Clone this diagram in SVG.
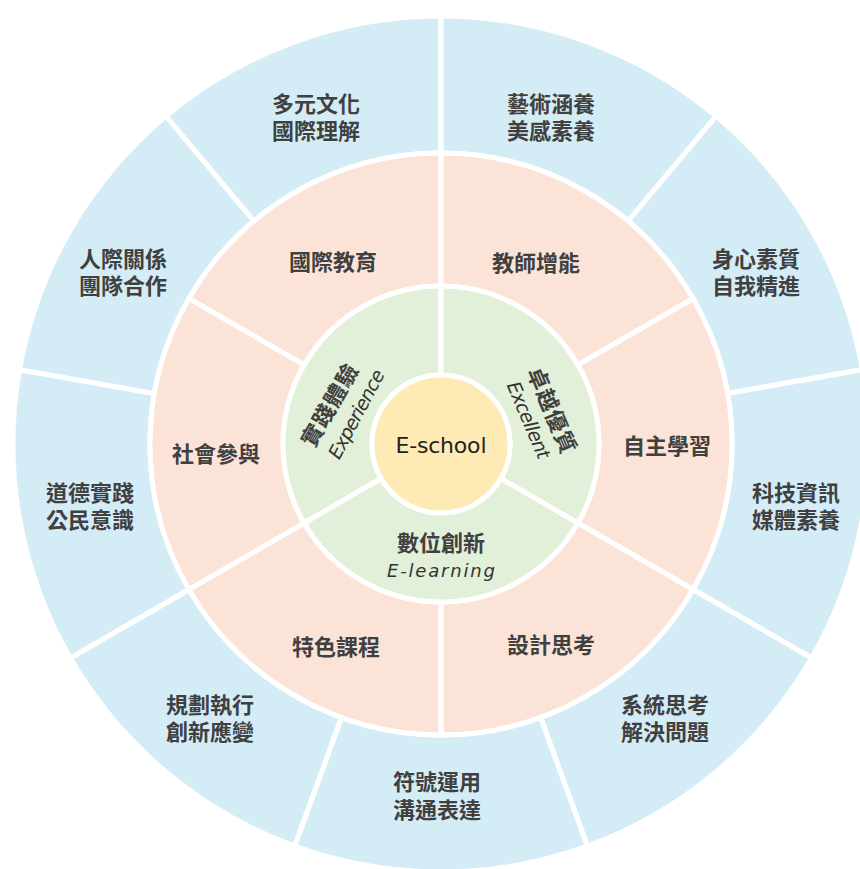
<svg xmlns="http://www.w3.org/2000/svg" width="860" height="869" viewBox="0 0 860 869">
<style>
.seg{stroke:#ffffff;stroke-width:5;stroke-linejoin:miter}
.blue{fill:#d4ecf6}
.peach{fill:#fbe3d7}
.green{fill:#e2efd9}
.yellow{fill:#feeab5}
.t{font-family:"Noto Sans CJK TC","Noto Sans CJK SC",sans-serif;font-size:22px;font-weight:600;fill:#404040;text-anchor:middle;dominant-baseline:central}
.en{font-family:"DejaVu Sans","Noto Sans",sans-serif;font-style:italic;font-weight:300;fill:#333333;text-anchor:middle;dominant-baseline:central}
.up{font-style:normal;font-weight:400;fill:#222222}
</style>
<rect width="860" height="869" fill="#ffffff"/>
<g id="outer-ring">
<g id="n-multicultural"><path class="seg blue" d="M 165.89 116.13 A 428 428 0 0 1 441 16 L 441 153 A 291 291 0 0 0 253.95 221.08 Z"/><text class="t" x="316" y="102">多元文化</text><text class="t" x="316" y="129">國際理解</text></g>
<g id="n-arts"><path class="seg blue" d="M 441 16 A 428 428 0 0 1 716.11 116.13 L 628.05 221.08 A 291 291 0 0 0 441 153 Z"/><text class="t" x="551" y="102">藝術涵養</text><text class="t" x="551" y="129">美感素養</text></g>
<g id="n-body"><path class="seg blue" d="M 716.11 116.13 A 428 428 0 0 1 862.5 369.68 L 727.58 393.47 A 291 291 0 0 0 628.05 221.08 Z"/><text class="t" x="756" y="257">身心素質</text><text class="t" x="756" y="284">自我精進</text></g>
<g id="n-tech"><path class="seg blue" d="M 862.5 369.68 A 428 428 0 0 1 811.66 658 L 693.01 589.5 A 291 291 0 0 0 727.58 393.47 Z"/><text class="t" x="796" y="491">科技資訊</text><text class="t" x="796" y="518">媒體素養</text></g>
<g id="n-system"><path class="seg blue" d="M 811.66 658 A 428 428 0 0 1 587.38 846.19 L 540.53 717.45 A 291 291 0 0 0 693.01 589.5 Z"/><text class="t" x="665" y="703">系統思考</text><text class="t" x="665" y="730">解決問題</text></g>
<g id="n-symbol"><path class="seg blue" d="M 587.38 846.19 A 428 428 0 0 1 294.62 846.19 L 341.47 717.45 A 291 291 0 0 0 540.53 717.45 Z"/><text class="t" x="437" y="780">符號運用</text><text class="t" x="437" y="808">溝通表達</text></g>
<g id="n-plan"><path class="seg blue" d="M 294.62 846.19 A 428 428 0 0 1 70.34 658 L 188.99 589.5 A 291 291 0 0 0 341.47 717.45 Z"/><text class="t" x="210" y="703">規劃執行</text><text class="t" x="210" y="730">創新應變</text></g>
<g id="n-moral"><path class="seg blue" d="M 70.34 658 A 428 428 0 0 1 19.5 369.68 L 154.42 393.47 A 291 291 0 0 0 188.99 589.5 Z"/><text class="t" x="90" y="491">道德實踐</text><text class="t" x="90" y="518">公民意識</text></g>
<g id="n-people"><path class="seg blue" d="M 19.5 369.68 A 428 428 0 0 1 165.89 116.13 L 253.95 221.08 A 291 291 0 0 0 154.42 393.47 Z"/><text class="t" x="123" y="257">人際關係</text><text class="t" x="123" y="284">團隊合作</text></g>
</g>
<g id="middle-ring">
<g id="n-intl"><path class="seg peach" d="M 188.99 298.5 A 291 291 0 0 1 441 153 L 441 286 A 158 158 0 0 0 304.17 365 Z"/><text class="t" x="333" y="260">國際教育</text></g>
<g id="n-teacher"><path class="seg peach" d="M 441 153 A 291 291 0 0 1 693.01 298.5 L 577.83 365 A 158 158 0 0 0 441 286 Z"/><text class="t" x="536" y="261">教師增能</text></g>
<g id="n-self"><path class="seg peach" d="M 693.01 298.5 A 291 291 0 0 1 693.01 589.5 L 577.83 523 A 158 158 0 0 0 577.83 365 Z"/><text class="t" x="667" y="444">自主學習</text></g>
<g id="n-design"><path class="seg peach" d="M 693.01 589.5 A 291 291 0 0 1 441 735 L 441 602 A 158 158 0 0 0 577.83 523 Z"/><text class="t" x="551" y="643">設計思考</text></g>
<g id="n-feature"><path class="seg peach" d="M 441 735 A 291 291 0 0 1 188.99 589.5 L 304.17 523 A 158 158 0 0 0 441 602 Z"/><text class="t" x="336" y="645">特色課程</text></g>
<g id="n-social"><path class="seg peach" d="M 188.99 589.5 A 291 291 0 0 1 188.99 298.5 L 304.17 365 A 158 158 0 0 0 304.17 523 Z"/><text class="t" x="216" y="452">社會參與</text></g>
</g>
<g id="inner-ring">
<g id="n-experience"><path class="seg green" d="M 304.17 523 A 158 158 0 0 1 441 286 L 441 375 A 69 69 0 0 0 381.24 478.5 Z"/>
<text class="t" transform="translate(328 404) rotate(-60)" letter-spacing="1">實踐體驗</text>
<text class="en" font-size="19" transform="translate(356 414) rotate(-62)" textLength="98" lengthAdjust="spacing">Experience</text></g>
<g id="n-excellent"><path class="seg green" d="M 441 286 A 158 158 0 0 1 577.83 523 L 500.76 478.5 A 69 69 0 0 0 441 375 Z"/>
<text class="t" transform="translate(554 410) rotate(67)" letter-spacing="1">卓越優質</text>
<text class="en" font-size="19" transform="translate(529 420) rotate(67)" textLength="82" lengthAdjust="spacing">Excellent</text></g>
<g id="n-elearning"><path class="seg green" d="M 577.83 523 A 158 158 0 0 1 304.17 523 L 381.24 478.5 A 69 69 0 0 0 500.76 478.5 Z"/>
<text class="t" x="441" y="541">數位創新</text>
<text class="en" font-size="18" x="441" y="570" textLength="108" lengthAdjust="spacing">E-learning</text></g>
</g>
<g id="n-eschool"><circle class="seg yellow" cx="441" cy="444" r="69"/>
<text class="en up" font-size="22" x="441" y="445" textLength="91" lengthAdjust="spacing">E-school</text></g>
<g id="connectors"></g>
</svg>
